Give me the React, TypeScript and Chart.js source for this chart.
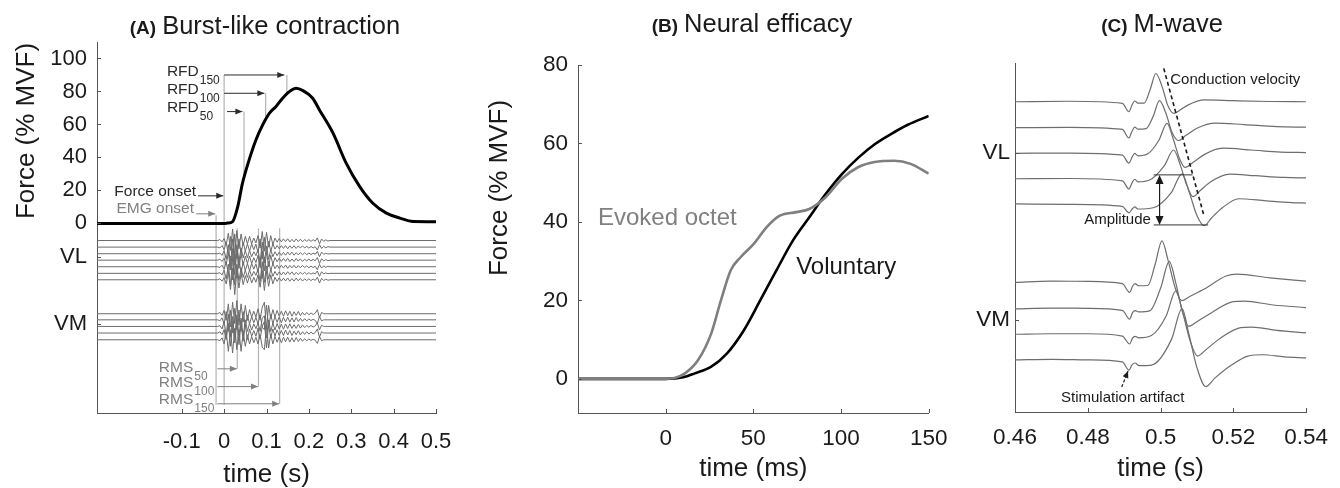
import React, { useEffect, useRef } from 'react';
import { Chart, registerables } from 'chart.js';

Chart.register(...registerables);

const FONT = '"Liberation Sans", Arial, Helvetica, sans-serif';
const TEXT = '#1a1a1a';
const GRAY_TEXT = '#808080';
const AXIS = '#555555';
Chart.defaults.font.family = FONT;

// ---------------- Panel A : Burst-like contraction ----------------
const xTicksA = [-0.1, 0, 0.1, 0.2, 0.3, 0.4, 0.5];
const yTicksA = [0, 20, 40, 60, 80, 100];
const muscleLabelsA = ['VM', 'VL'];
const musclePosA = [-60.8, -20.5];

const forceTimeA = [-0.3, 0, 0.008, 0.02, 0.032, 0.043, 0.059, 0.075, 0.091, 0.107, 0.122, 0.138, 0.154, 0.17, 0.186, 0.209, 0.225, 0.257, 0.288, 0.32, 0.351, 0.383, 0.415, 0.446, 0.5];
const forceA = [0, 0, 0.2, 1.1, 10, 24, 38.5, 50.6, 59.7, 66.8, 70.8, 75.9, 79.9, 81.9, 80.5, 75.9, 68.8, 54.7, 36.5, 22.3, 12.2, 6.2, 3.2, 1.1, 1.0];

const emgTimeA = [-0.3,
  -0.015, -0.01, -0.005, 0, 0.005, 0.01, 0.015, 0.02, 0.025, 0.03,
  0.035, 0.04, 0.045, 0.05, 0.055, 0.06, 0.065, 0.07, 0.075, 0.08,
  0.085, 0.09, 0.095, 0.1, 0.105, 0.11, 0.115, 0.12, 0.125, 0.13,
  0.135, 0.14, 0.145, 0.15, 0.155, 0.16, 0.165, 0.17, 0.175, 0.18,
  0.185, 0.19, 0.195, 0.2, 0.205, 0.21, 0.215, 0.22, 0.225, 0.23,
  0.235, 0.24, 0.245, 0.25,
  0.5];

const vlWaveA1 = [0,
  0, 0.6, -0.8, 1.2, -2.5, 4.5, -6, 7, -9, 6,
  -5, 4, -3, 2.5, -2, 2.5, -2, 1.5, -1.5, 3,
  -4.5, 5.5, -6.5, 5, -4, 3, -2.5, 1.5, -1, 1.2,
  -0.8, 1, -0.7, 1.1, -0.9, 0.7, -0.8, 1, -0.6, 0.8,
  -0.8, 0.6, -0.5, 0.6, -0.5, 0.5, -0.4, 1.6, -2, 0.9,
  -0.5, 0.4, -0.3, 0,
  0];
const vlWaveA2 = [0,
  0, -0.5, 0.9, -1.5, 3, -5, 6.5, -8, 8, -7,
  5, -4, 3, -2.5, 2, -2.5, 2, -1.5, 1.8, -3.5,
  5, -7, 6, -4.5, 3.5, -2.5, 2, -1.2, 1, -1,
  0.9, -0.8, 1, -1, 0.8, -0.7, 0.9, -0.8, 0.7, -0.6,
  0.8, -0.5, 0.5, -0.6, 0.4, -0.5, 0.3, -1.8, 1.5, -0.8,
  0.5, -0.4, 0.3, 0,
  0];
const vlWaveA3 = [0,
  0, 0.4, -1, 1.8, -3.5, 5.5, -7.5, 9, -7, 5.5,
  -4.5, 3.5, -2.5, 2, -2.5, 2, -1.8, 1.2, -1.2, 2.5,
  -5, 7, -5.5, 4.5, -3.5, 2.5, -1.8, 1.2, -1.2, 0.9,
  -1, 0.8, -0.9, 1, -0.7, 0.9, -0.9, 0.6, -0.7, 0.7,
  -0.6, 0.6, -0.6, 0.4, -0.5, 0.3, -0.3, 1.4, -1.8, 1,
  -0.4, 0.3, -0.2, 0,
  0];
const vmWaveA1 = [0,
  0, 0.8, -1, 2, -4, 6, -8, 7, -6, 8,
  -7, 6, -5, 5, -4, 2.5, -2, 1.5, -2, 3,
  -3.5, 4, 7, -9, 5, -3, 2.5, -2, 2, -1.5,
  1.5, -1.5, 1.8, -1.2, 1.5, -1.5, 1.2, -1, 1.4, -1.2,
  0.8, -0.8, 0.8, -0.6, 0.5, -0.5, 0.3, 2.5, -2.5, 0.8,
  0, 0, 0, 0,
  0];
const vmWaveA2 = [0,
  0, -0.6, 1.2, -2.5, 5, -7, 6, -8, 7, -6,
  6, -7, 5, -4, 3, -2.5, 2, -1.8, 1.5, -2.5,
  3, -4.5, -6, 9, -5, 3.5, -2.5, 2, -1.5, 1.8,
  -1.8, 1.5, -1.2, 1.6, -1.4, 1.2, -1.3, 1.4, -1, 0.9,
  -0.9, 0.7, -0.6, 0.5, -0.4, 0.3, -0.3, -2.2, 2, -0.6,
  0, 0, 0, 0,
  0];
const vmWaveA3 = [0,
  0, 0.5, -1.5, 3, -5.5, 7.5, -6.5, 6, -7.5, 7,
  -6, 5, -6, 4, -3, 2, -2.2, 1.6, -1.4, 2.2,
  -3, 5, 6.5, -7, 4, -3, 2, -2.2, 1.8, -1.6,
  1.4, -1.7, 1.5, -1.3, 1.6, -1.2, 1.1, -1.2, 1.2, -1,
  0.9, -0.7, 0.6, -0.5, 0.6, -0.4, 0.3, 2.2, -2.2, 0.7,
  0, 0, 0, 0,
  0];
const vlWavesA = [vlWaveA1, vlWaveA2, vlWaveA3];
const vmWavesA = [vmWaveA1, vmWaveA2, vmWaveA3];
const vlBaselinesA = [-10.4, -14.4, -18.4, -22.3, -26.3, -30.3, -34.2];
const vmBaselinesA = [-54.8, -58.5, -62.5, -66.5, -70.6];

// ---------------- Panel B : Neural efficacy ----------------
const xTicksB = [0, 50, 100, 150];
const yTicksB = [0, 20, 40, 60, 80];
const timeVolB = [-50, 0, 10, 16.6, 26, 35, 44.6, 53.9, 63.2, 72.6, 81.9, 91.2, 100.5, 109.9, 119.2, 128.5, 137.8, 150];
const forceVolB = [0, 0, 0.4, 1.4, 3.1, 6.5, 12.4, 20, 27.7, 35.3, 41.2, 47.1, 52.2, 56.4, 59.8, 62.4, 64.7, 67];
const timeEvkB = [-50, 0, 5, 11, 18.5, 26, 31.5, 37.1, 42.7, 50.2, 57.6, 65.1, 74.4, 81.9, 91.2, 100.5, 109.9, 119.2, 130.4, 139.7, 150];
const forceEvkB = [0, 0, 0.2, 1.4, 4.8, 11.6, 20, 27.7, 31, 34.4, 38.7, 41.6, 42.5, 43.3, 46.3, 51, 54, 55.3, 55.6, 54.8, 52.3];

// ---------------- Panel C : M-wave ----------------
const xTicksC = [0.46, 0.48, 0.5, 0.52, 0.54];
const muscleLabelsC = ['VM', 'VL'];
const musclePosC = [3.59, 10.09];
const vlBaselinesC = [12.09, 11.08, 10.08, 9.09, 8.11];
const vmBaselinesC = [5.05, 4.02, 3.03, 2.03];

const vlTimeC = [
  [0.46, 0.475, 0.4895, 0.4913, 0.4922, 0.4929, 0.4938, 0.4955, 0.4972, 0.4987, 0.5004, 0.502, 0.5036, 0.5056, 0.5075, 0.512, 0.52, 0.53, 0.54],
  [0.46, 0.475, 0.4895, 0.4913, 0.4922, 0.4929, 0.4938, 0.496, 0.498, 0.4997, 0.5015, 0.5032, 0.5049, 0.507, 0.51, 0.515, 0.523, 0.532, 0.54],
  [0.46, 0.475, 0.4895, 0.4913, 0.4922, 0.4929, 0.4938, 0.4965, 0.4995, 0.5018, 0.5035, 0.5052, 0.5067, 0.509, 0.512, 0.517, 0.525, 0.533, 0.54],
  [0.46, 0.475, 0.4895, 0.4913, 0.4922, 0.4929, 0.4938, 0.497, 0.501, 0.5036, 0.5055, 0.5072, 0.5089, 0.511, 0.514, 0.519, 0.526, 0.534, 0.54],
  [0.46, 0.475, 0.4895, 0.4913, 0.4922, 0.4929, 0.4938, 0.498, 0.503, 0.5059, 0.508, 0.51, 0.512, 0.514, 0.517, 0.5215, 0.529, 0.536, 0.54],
];
const vlWaveC = [
  [0, 0.02, -0.06, -0.39, -0.12, 0.03, -0.05, -0.05, 0.5, 1.1, 0.6, -0.15, -0.45, -0.3, -0.13, 0.07, 0.04, 0.01, 0],
  [0, 0.01, -0.07, -0.4, -0.13, 0.02, -0.06, -0.04, 0.45, 1.05, 0.55, -0.2, -0.5, -0.3, -0.02, 0.18, 0.12, 0.04, 0.02],
  [0, 0.01, -0.07, -0.38, -0.14, 0, -0.1, -0.02, 0.5, 1.17, 0.55, -0.2, -0.55, -0.35, -0.05, 0.2, 0.13, 0.05, 0.03],
  [0, 0.01, -0.08, -0.4, -0.15, -0.02, -0.12, -0.05, 0.5, 1.12, 0.5, -0.25, -0.7, -0.45, -0.1, 0.18, 0.12, 0.05, 0.03],
  [0, -0.02, -0.1, -0.35, -0.2, -0.12, -0.2, -0.15, 0.45, 1.17, 0.4, -0.45, -0.85, -0.55, -0.15, 0.2, 0.12, 0.05, 0.03],
];
const vmTimeC = [
  [0.46, 0.47, 0.48, 0.4895, 0.4915, 0.4923, 0.493, 0.494, 0.4965, 0.4985, 0.5004, 0.502, 0.504, 0.5058, 0.508, 0.512, 0.518, 0.521, 0.53, 0.54],
  [0.46, 0.47, 0.48, 0.4895, 0.4915, 0.4923, 0.493, 0.494, 0.497, 0.5, 0.5024, 0.5042, 0.506, 0.5077, 0.51, 0.514, 0.52, 0.523, 0.531, 0.54],
  [0.46, 0.47, 0.48, 0.4895, 0.4915, 0.4923, 0.493, 0.494, 0.4975, 0.5015, 0.5042, 0.506, 0.508, 0.5102, 0.5125, 0.516, 0.522, 0.525, 0.532, 0.54],
  [0.46, 0.47, 0.48, 0.4895, 0.4913, 0.4922, 0.493, 0.494, 0.4975, 0.503, 0.5059, 0.5078, 0.51, 0.5124, 0.515, 0.519, 0.524, 0.528, 0.534, 0.54],
];
const vmWaveC = [
  [0, 0.05, 0.04, -0.05, -0.39, -0.15, -0.05, -0.13, -0.12, 0.7, 1.62, 0.9, -0.2, -0.71, -0.55, -0.26, 0.25, 0.32, 0.18, 0.05],
  [0, 0.03, 0.02, -0.06, -0.4, -0.15, -0.07, -0.12, -0.08, 0.8, 1.85, 1.0, -0.1, -0.68, -0.5, -0.15, 0.28, 0.3, 0.15, 0.05],
  [0, 0.02, 0.02, -0.07, -0.38, -0.15, -0.08, -0.14, -0.05, 0.7, 1.69, 0.9, -0.2, -0.85, -0.6, -0.2, 0.26, 0.28, 0.15, 0.05],
  [0, 0.02, 0, -0.08, -0.4, -0.18, -0.12, -0.22, -0.2, 0.8, 2.0, 1.0, -0.3, -1.04, -0.7, -0.25, 0.15, 0.2, 0.12, 0.08],
];

// ---------------- drawing helpers ----------------
type AnyChart = any;
const PX = (c: AnyChart, v: number) => c.scales.x.getPixelForValue(v);
const PY = (c: AnyChart, v: number) => c.scales.y.getPixelForValue(v);

function line(ctx: CanvasRenderingContext2D, x1: number, y1: number, x2: number, y2: number, color: string, w = 1, dash: number[] = []) {
  ctx.save();
  ctx.strokeStyle = color;
  ctx.lineWidth = w;
  ctx.setLineDash(dash);
  ctx.beginPath();
  ctx.moveTo(x1, y1);
  ctx.lineTo(x2, y2);
  ctx.stroke();
  ctx.restore();
}

function head(ctx: CanvasRenderingContext2D, x1: number, y1: number, x2: number, y2: number, color: string, len = 7, half = 3) {
  const a = Math.atan2(y2 - y1, x2 - x1);
  const bx = x2 - len * Math.cos(a);
  const by = y2 - len * Math.sin(a);
  ctx.save();
  ctx.fillStyle = color;
  ctx.beginPath();
  ctx.moveTo(x2, y2);
  ctx.lineTo(bx + half * Math.sin(a), by - half * Math.cos(a));
  ctx.lineTo(bx - half * Math.sin(a), by + half * Math.cos(a));
  ctx.closePath();
  ctx.fill();
  ctx.restore();
}

function arrow(ctx: CanvasRenderingContext2D, x1: number, y1: number, x2: number, y2: number, color: string, w = 1, dash: number[] = []) {
  line(ctx, x1, y1, x2, y2, color, w, dash);
  head(ctx, x1, y1, x2, y2, color);
}

function text(ctx: CanvasRenderingContext2D, s: string, x: number, y: number, color: string, size: number, align: CanvasTextAlign = 'left', baseline: CanvasTextBaseline = 'middle', weight = '') {
  ctx.save();
  ctx.font = `${weight} ${size}px ${FONT}`;
  ctx.fillStyle = color;
  ctx.textAlign = align;
  ctx.textBaseline = baseline;
  ctx.fillText(s, x, y);
  ctx.restore();
}

function subText(ctx: CanvasRenderingContext2D, main: string, sub: string, x: number, y: number, color: string) {
  ctx.save();
  ctx.font = `15.5px ${FONT}`;
  const w = ctx.measureText(main).width;
  ctx.restore();
  text(ctx, main, x, y, color, 15.5, 'left', 'alphabetic');
  text(ctx, sub, x + w + 1, y + 8, color, 12, 'left', 'alphabetic');
}

function titlePlugin(prefix: string, main: string, cx: number, baseline: number) {
  return {
    id: 'panelTitle',
    afterDraw(chart: AnyChart) {
      const ctx = chart.ctx as CanvasRenderingContext2D;
      ctx.save();
      ctx.font = `bold 19px ${FONT}`;
      const w1 = ctx.measureText(prefix).width;
      ctx.font = `25.5px ${FONT}`;
      const w2 = ctx.measureText(main).width;
      ctx.restore();
      const gap = 6;
      const x0 = cx - (w1 + gap + w2) / 2;
      text(ctx, prefix, x0, baseline, TEXT, 19, 'left', 'alphabetic', 'bold');
      text(ctx, main, x0 + w1 + gap, baseline, TEXT, 25.5, 'left', 'alphabetic');
    },
  };
}

function yTitlePlugin(label: string, cx: number, cy: number) {
  return {
    id: 'yTitle',
    afterDraw(chart: AnyChart) {
      const ctx = chart.ctx as CanvasRenderingContext2D;
      ctx.save();
      ctx.translate(cx, cy);
      ctx.rotate(-Math.PI / 2);
      text(ctx, label, 0, 0, TEXT, 26, 'center', 'middle');
      ctx.restore();
    },
  };
}

const inwardTicks = {
  id: 'inwardTicks',
  afterDraw(chart: AnyChart) {
    const ctx = chart.ctx as CanvasRenderingContext2D;
    const { left, bottom } = chart.chartArea;
    chart.scales.x.ticks.forEach((t: any) => {
      const p = Math.round(PX(chart, t.value)) + 0.5;
      line(ctx, p, bottom, p, bottom - 4, AXIS, 1);
    });
    chart.scales.y.ticks.forEach((t: any) => {
      const p = Math.round(PY(chart, t.value)) + 0.5;
      line(ctx, left, p, left + 4, p, AXIS, 1);
    });
  },
};

function xy(xs: number[], ys: number[], offset = 0) {
  return xs.map((x, i) => ({ x, y: ys[i] + offset }));
}

function scales(opts: {
  xmin: number; xmax: number; xticks: number[]; xfmt: (v: number) => string; xTitle: string; xHeight: number;
  xTickPad: number; xTitleLH: number;
  ymin: number; ymax: number; yticks: number[]; yfmt: (v: number) => string; yWidth: number; yPad: number; tickSize: number;
}) {
  return {
    x: {
      type: 'linear', min: opts.xmin, max: opts.xmax, bounds: 'data',
      afterBuildTicks: (s: any) => { s.ticks = opts.xticks.map((v) => ({ value: v })); },
      afterFit: (s: any) => { s.height = opts.xHeight; },
      grid: { display: false, drawTicks: false },
      border: { display: true, color: AXIS, width: 1 },
      ticks: { autoSkip: false, maxRotation: 0, minRotation: 0, padding: opts.xTickPad, color: TEXT, font: { size: opts.tickSize, family: FONT }, callback: (v: any) => opts.xfmt(Number(v)) },
      title: { display: true, text: opts.xTitle, color: TEXT, font: { size: 26, family: FONT, lineHeight: opts.xTitleLH }, padding: { top: 0, bottom: 4 } },
    },
    y: {
      type: 'linear', min: opts.ymin, max: opts.ymax, bounds: 'data',
      afterBuildTicks: (s: any) => { s.ticks = [...opts.yticks].sort((a, b) => a - b).map((v) => ({ value: v })); },
      afterFit: (s: any) => { s.width = opts.yWidth; },
      grid: { display: false, drawTicks: false },
      border: { display: true, color: AXIS, width: 1 },
      ticks: { autoSkip: false, padding: opts.yPad, color: TEXT, font: { size: opts.tickSize, family: FONT }, callback: (v: any) => opts.yfmt(Number(v)) },
    },
  };
}

const baseOptions = {
  animation: false,
  responsive: false,
  events: [],
  plugins: { legend: { display: false }, tooltip: { enabled: false }, title: { display: false } },
  elements: { point: { radius: 0 } },
};

// ---------------- Panel A config ----------------
function buildA(): any {
  const emg = [
    ...vlBaselinesA.map((b, i) => ({ data: xy(emgTimeA, vlWavesA[i % 3], b), borderColor: '#6c6c6c', borderWidth: 1, tension: 0 })),
    ...vmBaselinesA.map((b, i) => ({ data: xy(emgTimeA, vmWavesA[i % 3], b), borderColor: '#6c6c6c', borderWidth: 1, tension: 0 })),
  ];
  const force = { data: xy(forceTimeA, forceA), borderColor: '#000000', borderWidth: 3, cubicInterpolationMode: 'monotone' };
  const annot = {
    id: 'annotA',
    beforeDatasetsDraw(c: AnyChart) {
      const ctx = c.ctx as CanvasRenderingContext2D;
      const LG = '#b4b4b4';
      const v = (t: number, f1: number, f2: number) => line(ctx, PX(c, t), PY(c, f1), PX(c, t), PY(c, f2), LG, 1.2);
      v(-0.019, 5, -110);
      v(0, 90, -110);
      v(0.031, -3, -88.2);
      v(0.081, -3, -99);
      v(0.131, -3, -109.4);
      v(0.047, 67.8, 28);
      v(0.098, 78.9, 63);
      v(0.148, 90, 79);
    },
    afterDatasetsDraw(c: AnyChart) {
      const ctx = c.ctx as CanvasRenderingContext2D;
      const DK = '#2a2a2a';
      const h = (t1: number, t2: number, f: number, col: string) => arrow(ctx, PX(c, t1), PY(c, f), PX(c, t2), PY(c, f), col, 1);
      h(0, 0.142, 90, DK);
      h(0, 0.095, 78.9, DK);
      h(0.007, 0.043, 67.8, DK);
      h(-0.0616, -0.002, 16.7, DK);
      h(-0.066, -0.021, 5.8, GRAY_TEXT);
      h(-0.016, 0.03, -88.2, GRAY_TEXT);
      h(-0.016, 0.08, -99, GRAY_TEXT);
      h(-0.016, 0.13, -109.4, GRAY_TEXT);
      subText(ctx, 'RFD', '150', PX(c, -0.135), PY(c, 89.6), DK);
      subText(ctx, 'RFD', '100', PX(c, -0.135), PY(c, 78.5), DK);
      subText(ctx, 'RFD', '50', PX(c, -0.135), PY(c, 67.4), DK);
      subText(ctx, 'RMS', '50', PX(c, -0.154), PY(c, -90), GRAY_TEXT);
      subText(ctx, 'RMS', '100', PX(c, -0.154), PY(c, -99.2), GRAY_TEXT);
      subText(ctx, 'RMS', '150', PX(c, -0.154), PY(c, -109.6), GRAY_TEXT);
      text(ctx, 'Force onset', PX(c, -0.066), PY(c, 19.1), DK, 15.5, 'right');
      text(ctx, 'EMG onset', PX(c, -0.071), PY(c, 8.6), GRAY_TEXT, 15.5, 'right');
    },
  };
  return {
    type: 'line',
    data: { datasets: [...emg, force] },
    options: {
      ...baseOptions,
      layout: { padding: { left: 0, right: 44, top: 42, bottom: 0 } },
      scales: scales({
        xmin: -0.3, xmax: 0.5, xticks: xTicksA, xfmt: (v) => String(v), xTitle: 'time (s)', xHeight: 75,
        xTickPad: 15.5, xTitleLH: 0.72,
        ymin: -115, ymax: 110, yticks: [...musclePosA, ...yTicksA],
        yfmt: (v) => { const i = musclePosA.indexOf(v); return i >= 0 ? muscleLabelsA[i] : String(v); },
        yWidth: 97, yPad: 10, tickSize: 22,
      }),
    },
    plugins: [annot, inwardTicks, titlePlugin('(A)', 'Burst-like contraction', 265, 34), yTitlePlugin('Force (% MVF)', 27, 131)],
  };
}

// ---------------- Panel B config ----------------
function buildB(): any {
  const annot = {
    id: 'annotB',
    afterDatasetsDraw(c: AnyChart) {
      const ctx = c.ctx as CanvasRenderingContext2D;
      text(ctx, 'Evoked octet', PX(c, -38.6), PY(c, 40.9), GRAY_TEXT, 24, 'left');
      text(ctx, 'Voluntary', PX(c, 74.4), PY(c, 28.5), TEXT, 24, 'left');
    },
  };
  return {
    type: 'line',
    data: {
      datasets: [
        { data: xy(timeEvkB, forceEvkB), borderColor: '#7f7f7f', borderWidth: 2.6, cubicInterpolationMode: 'monotone' },
        { data: xy(timeVolB, forceVolB), borderColor: '#000000', borderWidth: 2.6, cubicInterpolationMode: 'monotone' },
      ],
    },
    options: {
      ...baseOptions,
      layout: { padding: { left: 0, right: 26, top: 65, bottom: 0 } },
      scales: scales({
        xmin: -50, xmax: 150, xticks: xTicksB, xfmt: (v) => String(v), xTitle: 'time (ms)', xHeight: 75,
        xTickPad: 12.5, xTitleLH: 1.2,
        ymin: -8.7, ymax: 80, yticks: yTicksB, yfmt: (v) => String(v),
        yWidth: 98, yPad: 10, tickSize: 22.5,
      }),
    },
    plugins: [annot, inwardTicks, titlePlugin('(B)', 'Neural efficacy', 272, 32), yTitlePlugin('Force (% MVF)', 20, 188)],
  };
}

// ---------------- Panel C config ----------------
function buildC(): any {
  const traces = [
    ...vlBaselinesC.map((b, i) => ({ data: xy(vlTimeC[i], vlWaveC[i], b), borderColor: '#6e6e6e', borderWidth: 1.2, cubicInterpolationMode: 'monotone' })),
    ...vmBaselinesC.map((b, i) => ({ data: xy(vmTimeC[i], vmWaveC[i], b), borderColor: '#6e6e6e', borderWidth: 1.2, cubicInterpolationMode: 'monotone' })),
  ];
  const annot = {
    id: 'annotC',
    afterDatasetsDraw(c: AnyChart) {
      const ctx = c.ctx as CanvasRenderingContext2D;
      const DK = '#1a1a1a';
      line(ctx, PX(c, 0.50088), PY(c, 13.39), PX(c, 0.512), PY(c, 7.61), DK, 1.6, [4, 3]);
      text(ctx, 'Conduction velocity', PX(c, 0.50267), PY(c, 12.94), DK, 15, 'left');
      line(ctx, PX(c, 0.49813), PY(c, 9.24), PX(c, 0.5088), PY(c, 9.24), '#333', 1);
      line(ctx, PX(c, 0.49813), PY(c, 7.29), PX(c, 0.51307), PY(c, 7.29), '#333', 1);
      const ax = PX(c, 0.49973);
      const y1 = PY(c, 9.24);
      const y2 = PY(c, 7.29);
      line(ctx, ax, y1 + 4, ax, y2 - 4, DK, 1.2);
      head(ctx, ax, y2, ax, y1, DK, 9, 4);
      head(ctx, ax, y1, ax, y2, DK, 9, 4);
      text(ctx, 'Amplitude', PX(c, 0.49733), PY(c, 7.48), DK, 15, 'right');
      arrow(ctx, PX(c, 0.48933), PY(c, 0.974), PX(c, 0.49107), PY(c, 1.6), DK, 1.2, [3, 2]);
      text(ctx, 'Stimulation artifact', PX(c, 0.4896), PY(c, 0.546), DK, 15, 'center');
    },
  };
  return {
    type: 'line',
    data: { datasets: traces },
    options: {
      ...baseOptions,
      layout: { padding: { left: 0, right: 26, top: 63, bottom: 0 } },
      scales: scales({
        xmin: 0.46, xmax: 0.54, xticks: xTicksC, xfmt: (v) => String(v), xTitle: 'time (s)', xHeight: 76,
        xTickPad: 12, xTitleLH: 1.2,
        ymin: 0, ymax: 13.6, yticks: musclePosC,
        yfmt: (v) => { const i = musclePosC.indexOf(v); return i >= 0 ? muscleLabelsC[i] : ''; },
        yWidth: 55, yPad: 5, tickSize: 22.5,
      }),
    },
    plugins: [annot, inwardTicks, titlePlugin('(C)', 'M-wave', 202, 32)],
  };
}

function ChartCanvas({ left, width, build }: { left: number; width: number; build: () => any }) {
  const ref = useRef<HTMLCanvasElement>(null);
  useEffect(() => {
    if (!ref.current) return;
    const chart = new Chart(ref.current, build());
    return () => chart.destroy();
  }, [build]);
  return <canvas ref={ref} width={width} height={488} style={{ position: 'absolute', left, top: 0, width, height: 488 }} />;
}

export default function App() {
  return (
    <div style={{ position: 'absolute', left: 0, top: 0, width: 1340, height: 488, background: '#ffffff', overflow: 'hidden' }}>
      <ChartCanvas left={0} width={480} build={buildA} />
      <ChartCanvas left={480} width={480} build={buildB} />
      <ChartCanvas left={960} width={380} build={buildC} />
    </div>
  );
}
